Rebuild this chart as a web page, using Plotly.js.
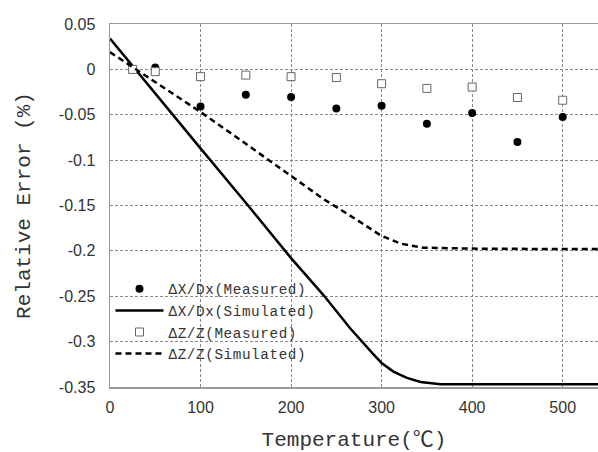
<!DOCTYPE html>
<html>
<head>
<meta charset="utf-8">
<script src="https://cdn.plot.ly/plotly-3.0.1.min.js"></script>
<style>html,body{margin:0;padding:0;background:#fff;}#chart{width:598px;height:452px;}
.legendtext{letter-spacing:0.6px;}</style>
</head>
<body>
<div id="chart"></div>
<script>
// Measured points
const measX = [50, 100, 150, 200, 250, 300, 350, 400, 450, 500];
const measDx = [0.002, -0.041, -0.028, -0.0305, -0.043, -0.040, -0.060, -0.048, -0.080, -0.0525];
const measZx = [25, 50, 100, 150, 200, 250, 300, 350, 400, 450, 500];
const measZ = [0.0, -0.0025, -0.008, -0.0063, -0.008, -0.009, -0.0158, -0.021, -0.0195, -0.031, -0.034];
// Simulated curves
const simDxX = [0, 50, 100, 150, 200, 236, 265, 290, 300, 313, 328, 343, 365, 400, 450, 500, 540];
const simDxY = [0.034, -0.027, -0.087, -0.147, -0.208, -0.249, -0.285, -0.313, -0.3235, -0.333, -0.340, -0.3444, -0.347, -0.347, -0.347, -0.347, -0.347];
const simZX = [0, 50, 100, 150, 200, 236, 273, 299, 321, 346, 400, 450, 500, 540];
const simZY = [0.019, -0.014, -0.047, -0.082, -0.118, -0.143, -0.166, -0.183, -0.192, -0.1965, -0.1975, -0.198, -0.198, -0.198];
// Ticks
const xTicks = [0, 100, 200, 300, 400, 500];
const yTicks = [0.05, 0, -0.05, -0.1, -0.15, -0.2, -0.25, -0.3, -0.35];
const yTickText = ['0.05', '0', '-0.05', '-0.1', '-0.15', '-0.2', '-0.25', '-0.3', '-0.35'];
const names = ['ΔX/Dx(Measured)', 'ΔX/Dx(Simulated)', 'ΔZ/Z(Measured)', 'ΔZ/Z(Simulated)'];

const mono = '"Liberation Mono", "DejaVu Sans Mono", "Noto Sans CJK JP", monospace';

const traces = [
  {x: measX, y: measDx, name: names[0], mode: 'markers', type: 'scatter',
   marker: {symbol: 'circle', size: 8, color: '#000'}},
  {x: simDxX, y: simDxY, name: names[1], mode: 'lines', type: 'scatter',
   line: {color: '#000', width: 2.5}},
  {x: measZx, y: measZ, name: names[2], mode: 'markers', type: 'scatter',
   marker: {symbol: 'square', size: 8, color: '#fff', line: {width: 1, color: '#666'}}},
  {x: simZX, y: simZY, name: names[3], mode: 'lines', type: 'scatter',
   line: {color: '#000', width: 2.5, dash: '6px,4px'}}
];

const layout = {
  width: 598, height: 452,
  margin: {l: 109.5, r: 0, t: 23.5, b: 65.3},
  paper_bgcolor: '#fff', plot_bgcolor: '#fff',
  showlegend: true,
  legend: {x: 0.001, y: 0.314, xanchor: 'left', yanchor: 'top', bgcolor: 'rgba(0,0,0,0)',
           font: {family: mono, size: 14.3, color: '#333'}, tracegroupgap: 0, itemwidth: 48},
  xaxis: {
    range: [0, 539], tickvals: xTicks, ticktext: xTicks.map(String),
    showline: true, mirror: true, linecolor: '#999', linewidth: 1.5,
    showgrid: true, gridcolor: '#888', gridwidth: 1, griddash: '3px,2px',
    zeroline: false, ticks: '', ticklen: 0, ticklabelstandoff: 5,
    tickfont: {family: '"Liberation Sans", Arial, sans-serif', size: 16, color: '#333'},
    title: {text: 'Temperature(℃)', font: {family: mono, size: 21, color: '#333'}, standoff: 16}
  },
  yaxis: {
    range: [-0.35, 0.05], tickvals: yTicks, ticktext: yTickText,
    showline: true, mirror: false, linecolor: '#999', linewidth: 1.5,
    showgrid: true, gridcolor: '#888', gridwidth: 1, griddash: '3px,2px',
    zeroline: false, ticks: '', ticklen: 0, ticklabelstandoff: 10,
    tickfont: {family: '"Liberation Sans", Arial, sans-serif', size: 16, color: '#333'},
    title: {text: 'Relative Error (%)', font: {family: mono, size: 21, color: '#333'}, standoff: 22}
  }
};

Plotly.newPlot('chart', traces, layout, {displayModeBar: false, staticPlot: true});
</script>
</body>
</html>
